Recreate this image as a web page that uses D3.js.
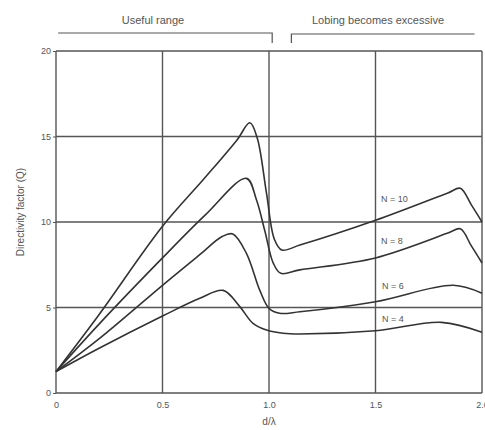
<!DOCTYPE html>
<html><head><meta charset="utf-8">
<script src="https://cdn.jsdelivr.net/npm/d3@7"></script>
<style>body{margin:0;background:#fff;}svg{display:block;font-family:"Liberation Sans",Arial,sans-serif;}</style>
</head><body>
<svg id="c" width="485" height="430"></svg>
<script>
// Data (x = d/λ, y = directivity factor Q)
const seriesNames = ["N = 10", "N = 8", "N = 6", "N = 4"];
const n10 = [[0,1.25],[0.2,4.55],[0.5,9.75],[0.7,12.6],[0.85,14.8],[0.91,15.8],[0.945,14.9],[0.988,11.7],[1.025,9.0],[1.06,8.36],[1.145,8.65],[1.5,10.1],[1.84,11.7],[1.898,11.97],[1.95,11.0],[2.0,10.0]];
const n8  = [[0,1.25],[0.2,4.0],[0.5,7.9],[0.7,10.4],[0.894,12.55],[0.941,11.3],[0.98,9.5],[1.02,7.6],[1.055,7.0],[1.145,7.2],[1.5,7.9],[1.84,9.35],[1.898,9.6],[1.95,8.6],[2.0,7.6]];
const n6  = [[0,1.25],[0.2,3.15],[0.5,6.3],[0.676,8.1],[0.78,9.15],[0.83,9.3],[0.894,8.17],[0.957,6.0],[1.0,4.95],[1.05,4.66],[1.145,4.75],[1.5,5.34],[1.865,6.3],[2.0,5.83]];
const n4  = [[0,1.25],[0.2,2.6],[0.5,4.5],[0.675,5.54],[0.785,6.0],[0.863,5.05],[0.925,4.07],[0.988,3.68],[1.066,3.49],[1.145,3.45],[1.5,3.64],[1.81,4.13],[2.0,3.55]];
const seriesData = [n10, n8, n6, n4];
const labelPos = [[1.526,11.17],[1.526,8.7],[1.53,6.08],[1.53,4.15]];
const xTicks = [0, 0.5, 1.0, 1.5, 2.0];
const xTickLabels = ["0", "0.5", "1.0", "1.5", "2.0"];
const yTicks = [0, 5, 10, 15, 20];
const yTickLabels = ["0", "5", "10", "15", "20"];
const rangeLabels = ["Useful range", "Lobing becomes excessive"];

const svg = d3.select("#c");
const x = d3.scaleLinear().domain([0, 2]).range([56, 482]);
const y = d3.scaleLinear().domain([0, 20]).range([393, 51]);
const gridCol = "#555", textCol = "#555", lineCol = "#333";

// grid
svg.append("g").selectAll("line").data(xTicks).join("line")
  .attr("x1", d => x(d)).attr("x2", d => x(d)).attr("y1", y(0)).attr("y2", y(20))
  .attr("stroke", gridCol).attr("stroke-width", 1.4);
svg.append("g").selectAll("line").data(yTicks).join("line")
  .attr("x1", x(0)).attr("x2", x(2)).attr("y1", d => y(d)).attr("y2", d => y(d))
  .attr("stroke", gridCol).attr("stroke-width", 1.4);

// axes
const xAxis = d3.axisBottom(x).tickValues(xTicks).tickFormat((d,i) => xTickLabels[i]).tickSize(0).tickPadding(9);
const gx = svg.append("g").attr("transform", `translate(0,${y(0)})`).call(xAxis);
gx.select(".domain").remove();
gx.selectAll("text").attr("fill", textCol).style("font-size", "9px");

const yAxis = d3.axisLeft(y).tickValues(yTicks).tickFormat((d,i) => yTickLabels[i]).tickSize(3).tickPadding(2);
const gy = svg.append("g").attr("transform", `translate(${x(0)},0)`).call(yAxis);
gy.select(".domain").remove();
gy.selectAll("line").attr("stroke", gridCol);
gy.selectAll("text").attr("fill", textCol).style("font-size", "9px");

// curves
const line = d3.line().x(d => x(d[0])).y(d => y(d[1])).curve(d3.curveCatmullRom.alpha(0.5));
svg.append("g").selectAll("path").data(seriesData).join("path")
  .attr("d", line).attr("fill", "none").attr("stroke", lineCol).attr("stroke-width", 1.6);

// series labels
svg.append("g").selectAll("text").data(seriesNames).join("text")
  .attr("x", (d,i) => x(labelPos[i][0])).attr("y", (d,i) => y(labelPos[i][1]))
  .attr("fill", textCol).style("font-size", "9px").text(d => d);

// axis titles
svg.append("text").attr("x", x(1.0)).attr("y", 425).attr("text-anchor", "middle")
  .attr("fill", textCol).style("font-size", "10px").text("d/λ");
svg.append("text").attr("transform", `translate(24,${212}) rotate(-90)`).attr("text-anchor", "middle")
  .attr("fill", textCol).style("font-size", "10px").text("Directivity factor (Q)");

// range brackets
svg.append("text").attr("x", 153).attr("y", 24).attr("text-anchor", "middle")
  .attr("fill", textCol).style("font-size", "11px").text(rangeLabels[0]);
svg.append("text").attr("x", 378).attr("y", 24).attr("text-anchor", "middle")
  .attr("fill", textCol).style("font-size", "11px").text(rangeLabels[1]);
svg.append("path").attr("d", `M${x(0.01)},33H${x(1.015)}V43`).attr("fill", "none").attr("stroke", gridCol).attr("stroke-width", 1.2);
svg.append("path").attr("d", `M${x(1.105)},43V34H${x(1.965)}`).attr("fill", "none").attr("stroke", gridCol).attr("stroke-width", 1.2);
</script>
</body></html>
